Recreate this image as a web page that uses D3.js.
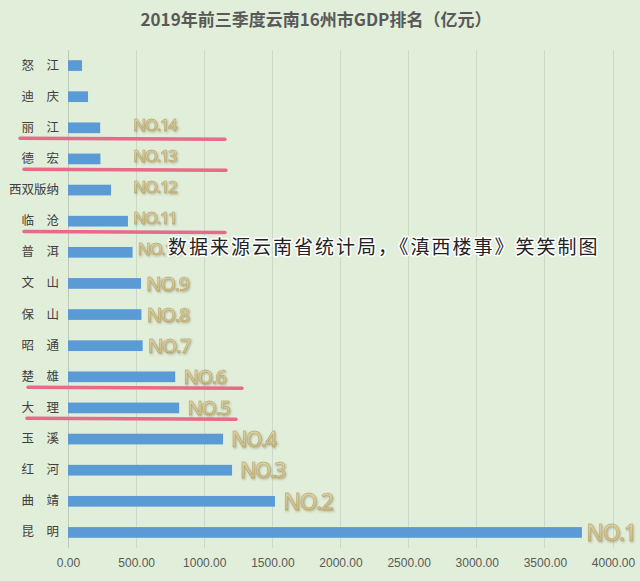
<!DOCTYPE html>
<html><head><meta charset="utf-8">
<script src="https://cdn.jsdelivr.net/npm/d3@7/dist/d3.min.js"></script>
<style>html,body{margin:0;padding:0;background:#e1eeda;}svg{display:block;}</style>
</head><body><svg id="c" width="640" height="581"></svg>
<script>
const cities = ["怒　江","迪　庆","丽　江","德　宏","西双版纳","临　沧","普　洱","文　山","保　山","昭　通","楚　雄","大　理","玉　溪","红　河","曲　靖","昆　明"];
const gdp = [103, 147, 236, 238, 316, 440, 474, 536, 539, 548, 787, 816, 1138, 1204, 1519, 3772];
const ranks = ["NO.16","NO.15","NO.14","NO.13","NO.12","NO.11","NO.10","NO.9","NO.8","NO.7","NO.6","NO.5","NO.4","NO.3","NO.2","NO.1"];
const shownRanks = ["NO.14","NO.13","NO.12","NO.11","NO.10","NO.9","NO.8","NO.7","NO.6","NO.5","NO.4","NO.3","NO.2","NO.1"];
const underlined = ["丽　江","德　宏","临　沧","楚　雄","大　理"];
const xTicks = [0,500,1000,1500,2000,2500,3000,3500,4000];
const title = "2019年前三季度云南16州市GDP排名（亿元）";
const note = "数据来源云南省统计局，《滇西楼事》笑笑制图";

const svg = d3.select("#c");
const W = 640, H = 581;
svg.append("rect").attr("width",W).attr("height",H).attr("fill","#e1eeda");
const defs = svg.append("defs");
const f = defs.append("filter").attr("id","sh").attr("x","-20%").attr("y","-30%").attr("width","140%").attr("height","160%");
f.append("feDropShadow").attr("dx",1).attr("dy",1.2).attr("stdDeviation",0.9).attr("flood-color","#6b6040").attr("flood-opacity",0.45);
const g = defs.append("linearGradient").attr("id","gold").attr("x1",0).attr("y1",0).attr("x2",0).attr("y2",1);
g.append("stop").attr("offset","0%").attr("stop-color","#e6dcae");
g.append("stop").attr("offset","100%").attr("stop-color","#c4b073");

const x = d3.scaleLinear().domain([0,4000]).range([68,613]);
const y = d3.scaleBand().domain(cities).range([50,548]).paddingInner(0.656).paddingOuter(0.328);

// grid
svg.append("g").selectAll("line").data(xTicks).join("line")
  .attr("x1",d=>x(d)).attr("x2",d=>x(d)).attr("y1",50).attr("y2",548)
  .attr("stroke",d=>d===0?"#bfc9bb":"#cdd8c8").attr("stroke-width",1).attr("shape-rendering","crispEdges");

// x axis labels
const xa = svg.append("g").attr("transform","translate(0,558)")
  .call(d3.axisBottom(x).tickValues(xTicks).tickSize(0).tickPadding(0).tickFormat(d3.format(".2f")));
xa.select(".domain").remove();
xa.selectAll("text").attr("fill","#595959").attr("font-size","12px").attr("font-family","'Liberation Sans','DejaVu Sans',sans-serif");

// y axis labels
const ya = svg.append("g").attr("transform","translate(59,0)")
  .call(d3.axisLeft(y).tickSize(0).tickPadding(0));
ya.select(".domain").remove();
ya.selectAll("text").attr("fill","#404040").attr("font-size","12.5px").attr("font-family","'Noto Sans CJK SC',sans-serif");

// bars
svg.append("g").selectAll("rect").data(cities).join("rect")
  .attr("x",x(0)).attr("y",d=>y(d)).attr("height",y.bandwidth())
  .attr("width",(d,i)=>x(gdp[i])-x(0)).attr("fill","#5b9bd5");

// title
svg.append("text").attr("x",316).attr("y",26).attr("text-anchor","middle")
  .attr("font-size","17px").attr("font-weight","bold").attr("fill","#595959")
  .attr("font-family","'Noto Sans CJK SC',sans-serif").text(title);

// underlines
svg.append("g").selectAll("line").data(underlined).join("line")
  .attr("x1",(d,i)=>[20,24,24,28,27][i]).attr("x2",(d,i)=>[225,226,225,242,236][i])
  .attr("y1",d=>y(d)+y.bandwidth()+5).attr("y2",d=>y(d)+y.bandwidth()+6)
  .attr("stroke","#e8698a").attr("stroke-width",3.5).attr("stroke-linecap","round");

// rank labels
const rn = r => +r.slice(3);
const sizeFor = r => { const n=rn(r); return n<=2?23:(n<=4?21:(n<=9?20:17)); };
const gapFor = r => { const n=rn(r); return n===1?4:(n<=6?8:5); };
svg.append("g").selectAll("text").data(cities.map((c,i)=>({c,v:gdp[i],r:ranks[i]})).filter(d=>shownRanks.includes(d.r))).join("text")
  .attr("x",d=>Math.max(x(d.v)+gapFor(d.r), x(477)))
  .attr("y",d=>y(d.c)+y.bandwidth()/2 - (rn(d.r)>=10?3:0))
  .attr("dy","0.36em")
  .attr("font-size",d=>sizeFor(d.r)+"px").attr("font-weight","600")
  .attr("font-family","'Open Sans','DejaVu Sans',sans-serif").attr("letter-spacing","-1.5px")
  .attr("fill","url(#gold)").attr("stroke","#a8975e").attr("stroke-width",0.35)
  .attr("filter","url(#sh)").text(d=>d.r);

// note
svg.append("text").attr("x",168).attr("y",247).attr("dy","0.36em")
  .attr("font-size","19px").attr("letter-spacing","2px")
  .attr("font-family","'Noto Sans CJK SC',sans-serif").attr("fill","#222")
  .attr("stroke","#ffffff").attr("stroke-width",3).attr("paint-order","stroke").attr("stroke-linejoin","round")
  .text(note);
</script></body></html>
